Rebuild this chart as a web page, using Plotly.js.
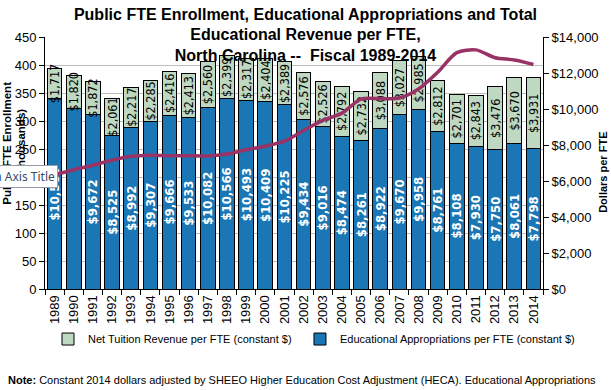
<!DOCTYPE html>
<html>
<head>
<meta charset="utf-8">
<script src="https://cdn.plot.ly/plotly-3.0.1.min.js"></script>
<style>html,body{margin:0;padding:0;background:#fff;}#chart{width:611px;height:390px;}</style>
</head>
<body>
<div id="chart"></div>
<script>
const years = ['1989','1990','1991','1992','1993','1994','1995','1996','1997','1998','1999','2000','2001','2002','2003','2004','2005','2006','2007','2008','2009','2010','2011','2012','2013','2014'];
const appropriations = [10560, 10050, 9672, 8525, 8992, 9307, 9666, 9533, 10082, 10566, 10493, 10409, 10225, 9434, 9016, 8474, 8261, 8922, 9670, 9958, 8761, 8108, 7930, 7750, 8061, 7798];
const tuition = [1717, 1820, 1872, 2061, 2217, 2285, 2416, 2413, 2560, 2399, 2317, 2404, 2389, 2576, 2526, 2792, 2732, 3088, 3027, 2985, 2812, 2701, 2843, 3476, 3670, 3931];
const fteEnrollment = [204, 213, 221, 230, 237, 239, 238, 238, 237.5, 241, 248.6, 255, 264, 283, 301, 314, 339, 340, 341, 357, 387, 422, 427, 413, 409, 401];
const hiddenAppropLabels = ['1990'];

const fmt = v => '$' + v.toLocaleString('en-US');
const appropText = years.map((y, i) => hiddenAppropLabels.includes(y) ? '' : fmt(appropriations[i]));
const tuitionText = tuition.map(fmt);

const narrow = 'DejaVu Sans Condensed, Liberation Sans Narrow, sans-serif';
const base = 'Liberation Sans, Arial, sans-serif';

const traces = [
  {
    type: 'bar', name: 'Educational Appropriations per FTE (constant $)',
    x: years, y: appropriations, yaxis: 'y', legend: 'legend2',
    marker: {color: '#1B76B5', line: {color: '#000', width: 1}},
    text: appropText, textposition: 'inside', insidetextanchor: 'middle',
    textangle: -90, constraintext: 'none',
    textfont: {family: narrow, size: 13, color: '#fff', weight: 'bold'},
    hoverinfo: 'skip'
  },
  {
    type: 'bar', name: 'Net Tuition Revenue per FTE (constant $)',
    x: years, y: tuition, yaxis: 'y', legend: 'legend',
    marker: {color: '#BFD8C2', line: {color: '#000', width: 1}},
    text: tuitionText, textposition: 'inside', insidetextanchor: 'middle',
    textangle: -90, constraintext: 'none',
    textfont: {family: narrow, size: 12.5, color: '#000'},
    hoverinfo: 'skip'
  },
  {
    type: 'scatter', mode: 'lines', name: 'Public FTE Enrollment',
    x: years, y: fteEnrollment, yaxis: 'y2', showlegend: false,
    line: {color: '#993366', width: 3.5, shape: 'spline', smoothing: 0.8},
    hoverinfo: 'skip'
  }
];

const legendStyle = {
  orientation: 'h', xanchor: 'left', y: -0.141, yanchor: 'top',
  font: {size: 11, family: base}, bgcolor: 'rgba(0,0,0,0)'
};

const layout = {
  width: 611, height: 390,
  margin: {l: 45, r: 68, t: 37, b: 101},
  paper_bgcolor: '#fff', plot_bgcolor: 'rgba(0,0,0,0)',
  font: {family: base, color: '#000', size: 13},
  barmode: 'stack', bargap: 0.24,
  showlegend: true,
  title: {
    text: '<b>Public FTE Enrollment, Educational Appropriations and Total<br>Educational Revenue per FTE,<br>North Carolina --  Fiscal 1989-2014</b>',
    font: {family: base, size: 16, color: '#000'},
    x: 0.5, xanchor: 'center', y: 0.95, yanchor: 'top'
  },
  xaxis: {
    type: 'category', tickangle: -90, tickson: 'boundaries',
    ticks: 'outside', ticklen: 5, tickcolor: '#000',
    showline: true, linecolor: '#000', linewidth: 1,
    showgrid: false, tickfont: {size: 13, family: base}
  },
  yaxis: {
    side: 'right', range: [0, 14000], dtick: 2000,
    tickprefix: '$', tickformat: ',', separatethousands: true,
    ticks: 'outside', ticklen: 5, tickcolor: '#000',
    showline: true, linecolor: '#000', linewidth: 1,
    showgrid: false, zeroline: false, tickfont: {size: 13, family: base}
  },
  yaxis2: {
    overlaying: 'y', side: 'left', range: [0, 450], dtick: 50,
    ticks: 'outside', ticklen: 5, tickcolor: '#000',
    showline: true, linecolor: '#000', linewidth: 1,
    showgrid: true, gridcolor: '#BDBDBD', gridwidth: 1,
    zeroline: false, tickfont: {size: 13, family: base}
  },
  legend: Object.assign({}, legendStyle, {x: 0.006}),
  legend2: Object.assign({}, legendStyle, {x: 0.512}),
  annotations: [
    {
      text: '<b>Public FTE Enrollment<br>(Thousands)</b>', textangle: -90,
      xref: 'paper', yref: 'paper', x: -0.062, y: 0.577,
      xanchor: 'center', yanchor: 'middle', showarrow: false,
      font: {size: 11.5, family: base, color: '#000'}
    },
    {
      text: '<b>Dollars per FTE</b>', textangle: -90,
      xref: 'paper', yref: 'paper', x: 1.12, y: 0.464,
      xanchor: 'center', yanchor: 'middle', showarrow: false,
      font: {size: 11, family: base, color: '#000'}
    },
    {
      text: '<b>Note:</b> Constant 2014 dollars adjusted by SHEEO Higher Education Cost Adjustment (HECA). Educational Appropriations',
      xref: 'paper', yref: 'paper', x: -0.078, y: -0.36,
      xanchor: 'left', yanchor: 'middle', showarrow: false,
      font: {size: 11, family: base, color: '#000'}
    },
    {
      text: '<span style="color:#2E5597">a</span> Axis Title',
      xref: 'paper', yref: 'paper', x: 0.026, y: 0.446,
      xanchor: 'right', yanchor: 'middle', showarrow: false,
      bgcolor: '#FFFFFF', bordercolor: '#9A9AAA', borderwidth: 1, borderpad: 2,
      font: {size: 12, family: 'Noto Sans, Open Sans, sans-serif', color: '#3B4A6B'}
    }
  ]
};

Plotly.newPlot('chart', traces, layout, {displayModeBar: false, staticPlot: true});
</script>
</body>
</html>
